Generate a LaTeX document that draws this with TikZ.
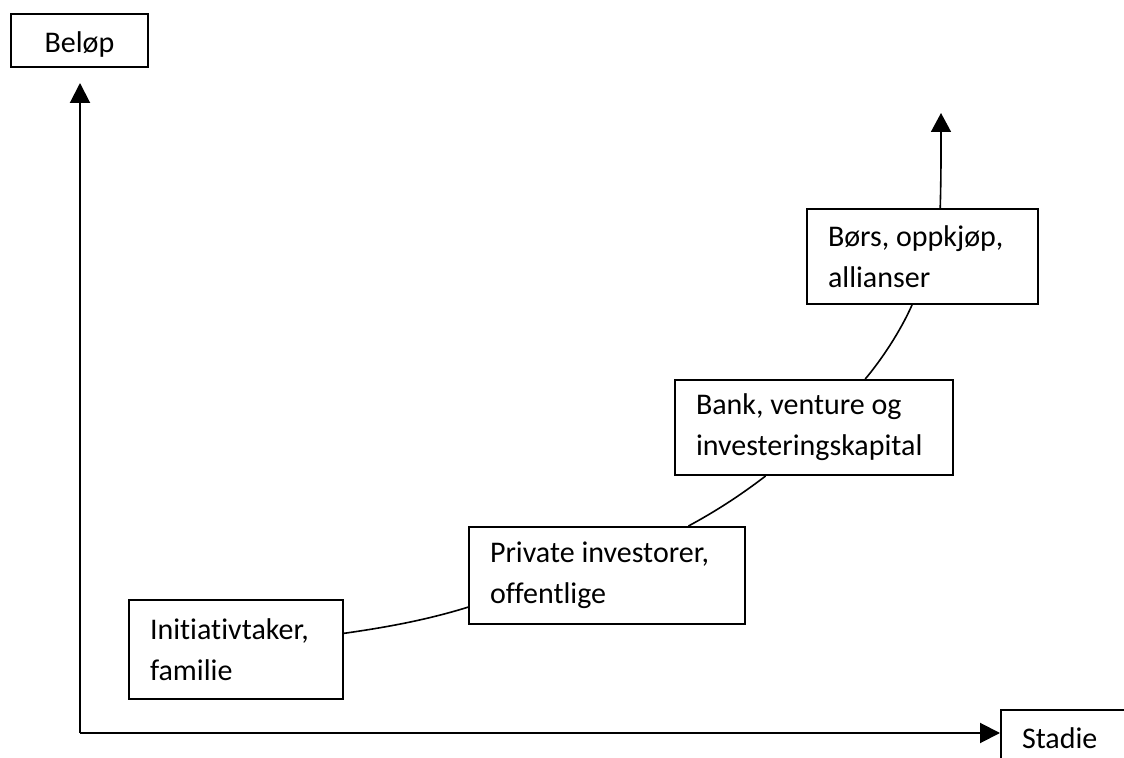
\documentclass[tikz,border=0pt]{standalone}
\usepackage{fontspec}
\setmainfont{Carlito}[Ligatures=NoCommon]
\usetikzlibrary{arrows.meta,calc}

\begin{document}
\begin{tikzpicture}[
  x=0.5pt, y=-0.5pt,
  font=\fontsize{15}{20.5}\selectfont,
  box/.style={draw, line width=1pt, anchor=north west, align=flush left,
    inner xsep=10.5pt, inner ysep=0pt},
  axis/.style={-{Triangle[length=10pt, width=10pt]}, line width=1pt},
  link/.style={line width=0.8pt},
  rise/.style={-{Triangle[length=9.5pt, width=10pt]}, line width=0.8pt}
]
  \clip (0,0) rectangle (1124,758);

  \node[box, align=center, minimum width=68.5pt, minimum height=26.5pt,
    text height=12.5pt, text depth=0pt] (belop) at (10,13) {Beløp};
  \node[box, text width=49pt, minimum height=28pt] (stadie) at (1000,709) {Stadie};

  \node[box, text width=86pt, minimum height=49.5pt] (init) at (128,599)
    {Initiativtaker,\\familie};
  \node[box, text width=117pt, minimum height=48.5pt] (priv) at (468,526)
    {Private investorer,\\offentlige};
  \node[box, text width=118pt, minimum height=47.5pt] (bank) at (674,379)
    {Bank, venture og\\investeringskapital};
  \node[box, text width=94.5pt, minimum height=47.5pt] (bors) at (806,208)
    {Børs, oppkjøp,\\allianser};

  \coordinate (origin) at (80,733);
  \coordinate (ytop) at (80,83);
  \coordinate (top) at (941,113);

  \draw[axis] (origin) -- (ytop);
  \draw[axis] (origin) -- (origin -| stadie.west);

  \draw[link] ($(init.north east)!0.34!(init.south east)$)
    .. controls +(42,-6) and +(-42,13) .. ($(priv.north west)!0.82!(priv.south west)$);
  \draw[link] ($(priv.north west)!0.793!(priv.north east)$)
    .. controls +(26,-14) and +(-26,20) .. ($(bank.south west)!0.327!(bank.south east)$);
  \draw[link] ($(bank.north west)!0.683!(bank.north east)$)
    .. controls +(16,-19) and +(-12,27) .. ($(bors.south west)!0.455!(bors.south east)$);
  \draw[rise] ($(bors.north west)!0.576!(bors.north east)$)
    .. controls +(1,-35) and +(0,35) .. (top);
\end{tikzpicture}
\end{document}
